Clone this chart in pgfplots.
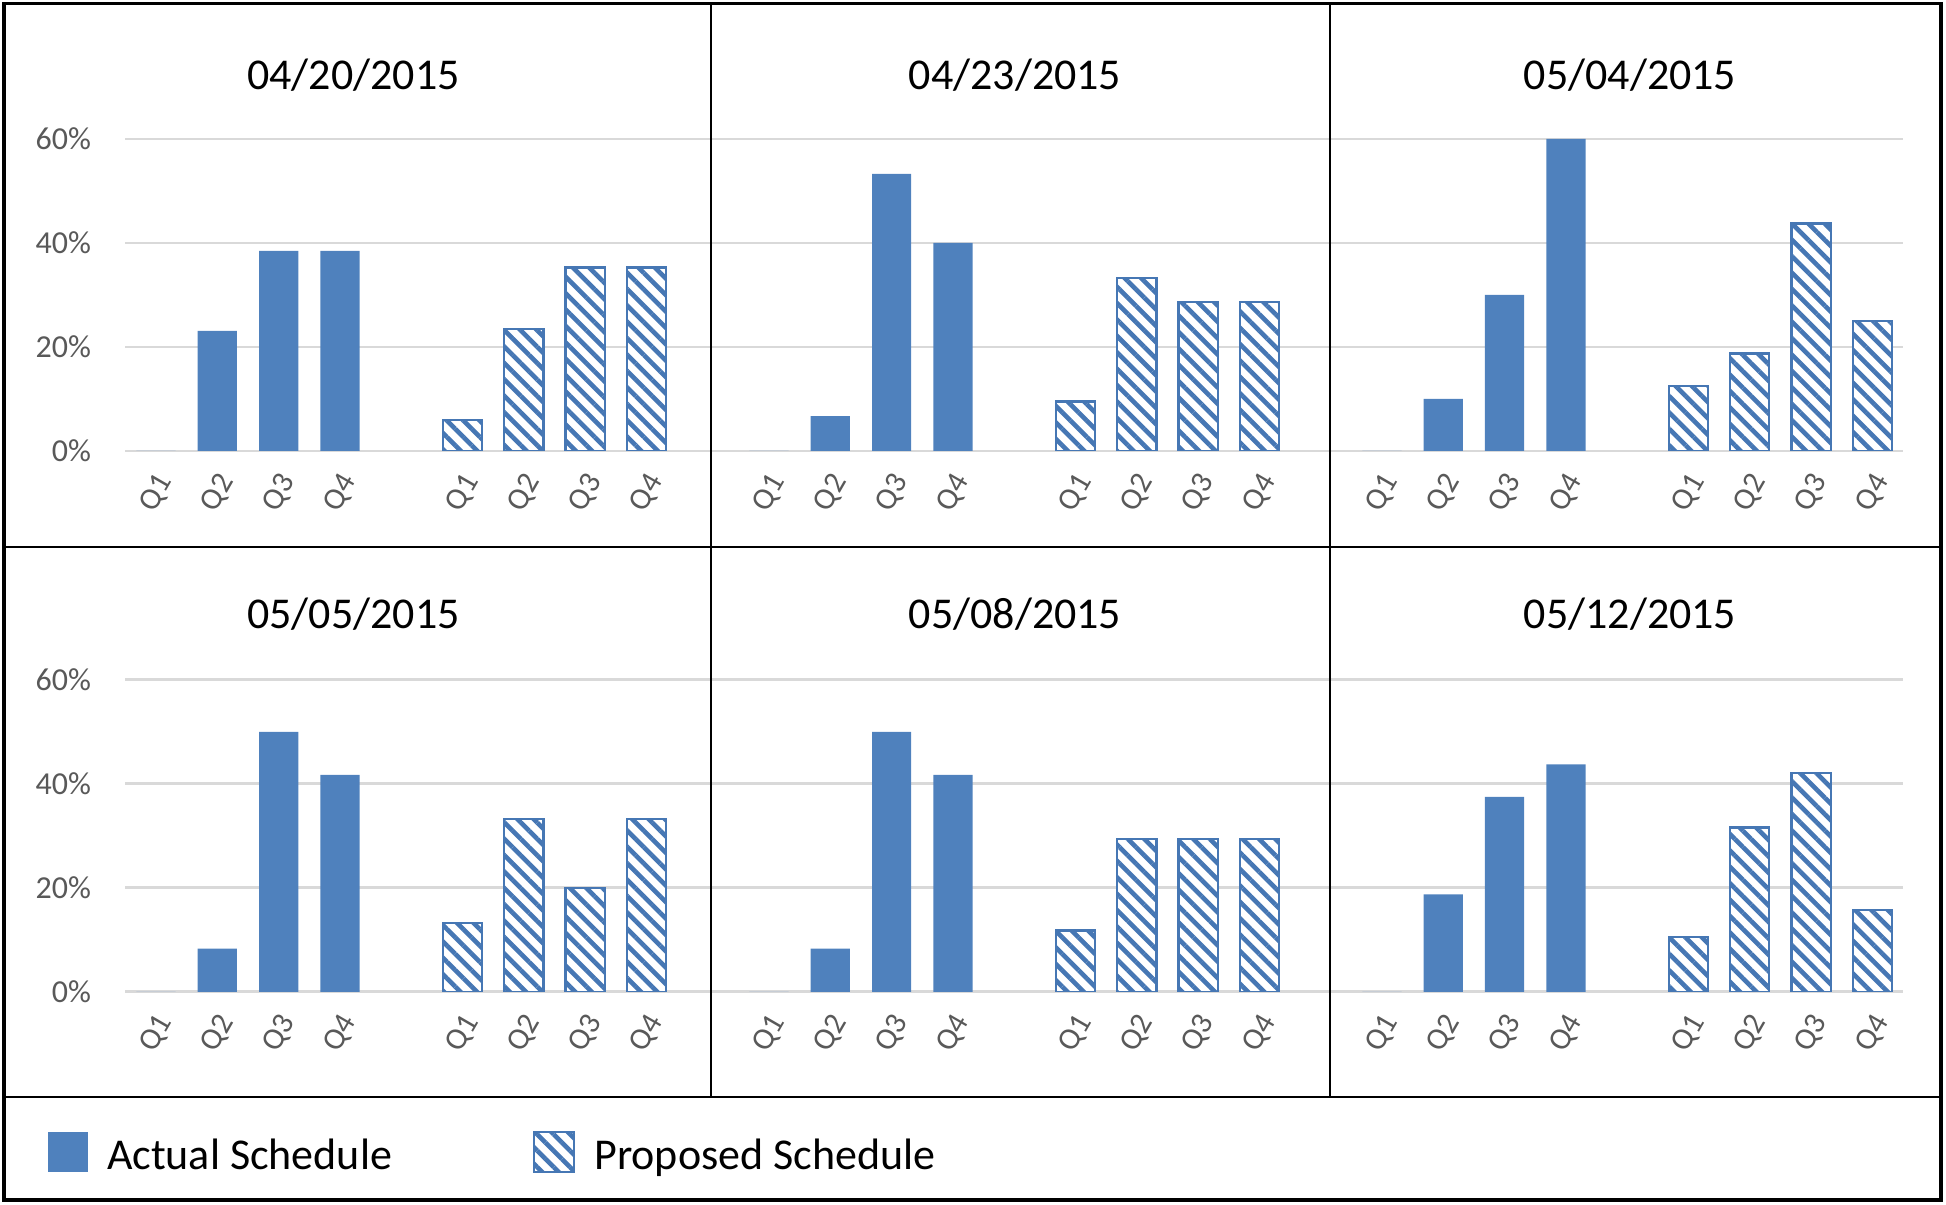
\documentclass[border=0pt]{standalone}
\usepackage{fontspec}
\setmainfont{Carlito}
\usepackage{pgfplots}
\pgfplotsset{compat=1.18}
\usetikzlibrary{patterns.meta}
\definecolor{barblue}{HTML}{4F81BD}
\definecolor{hatchblue}{HTML}{4677B4}
\definecolor{gridgray}{HTML}{D9D9D9}
\definecolor{labgray}{HTML}{595959}

\pgfplotsset{
 panelrow/.style={
  scale only axis, width=888.8pt, height=156pt,
  xmin=-0.5, xmax=28.5, ymin=0, ymax=60,
  axis line style={draw=none},
  major tick length=0pt,
  ytick={0,20,40,60},
  yticklabels={0\%,20\%,40\%,60\%},
  ymajorgrids, grid style={gridgray, line width=1.4pt},
  xtick={0,1,2,3,5,6,7,8,10,11,12,13,15,16,17,18,20,21,22,23,25,26,27,28},
  xticklabels={Q1,Q2,Q3,Q4,Q1,Q2,Q3,Q4,Q1,Q2,Q3,Q4,Q1,Q2,Q3,Q4,Q1,Q2,Q3,Q4,Q1,Q2,Q3,Q4},
  yticklabel style={font=\fontsize{16}{16}\selectfont, text=labgray, inner sep=0pt},
  yticklabel shift=17pt,
  xticklabel style={xshift=5pt, font=\fontsize{15.5}{15.5}\selectfont, text=labgray, rotate=60, anchor=east, inner sep=0pt},
  xticklabel shift=13pt,
  ybar, bar width=0.64,
 },
 actual/.style={fill=barblue, draw=none, bar shift=0pt, forget plot},
 proposed/.style={fill=white, draw=hatchblue, line width=1.1pt, bar shift=0pt, forget plot,
   postaction={pattern={Lines[angle=-45,distance=5.8pt,line width=2.3pt]}, pattern color=hatchblue}},
}

\begin{document}
\begin{tikzpicture}
\path[use as bounding box] (0,0) rectangle (973pt,602pt);

% ---------- Row 1 ----------
\begin{axis}[panelrow, at={(62.7pt,376.5pt)}, anchor=south west]
\addplot[actual] coordinates {(0,0) (1,23.1) (2,38.5) (3,38.5)};
\addplot[proposed] coordinates {(5,5.9) (6,23.5) (7,35.3) (8,35.3)};
\addplot[actual] coordinates {(10,0) (11,6.7) (12,53.3) (13,40.0)};
\addplot[proposed] coordinates {(15,9.5) (16,33.3) (17,28.6) (18,28.6)};
\addplot[actual] coordinates {(20,0) (21,10.0) (22,30.0) (23,60.0)};
\addplot[proposed] coordinates {(25,12.5) (26,18.75) (27,43.75) (28,25.0)};
\end{axis}

% ---------- Row 2 ----------
\begin{axis}[panelrow, at={(62.7pt,106.1pt)}, anchor=south west,
  legend columns=2,
  legend style={at={(-0.04354,-0.5135)}, anchor=west, draw=none, fill=none,
    inner sep=0pt, outer sep=0pt, font=\fontsize{22}{22}\selectfont,
    nodes={inner sep=0pt},
    /tikz/every odd column/.append style={column sep=9.5pt},
    /tikz/every even column/.append style={column sep=70.5pt}},
  legend cell align=left]
\addlegendimage{fill=barblue, draw=none, legend image code/.code={\fill[barblue] (0pt,-8pt) rectangle (20pt,12pt);}}
\addlegendentry{Actual Schedule}
\addlegendimage{legend image code/.code={\draw[fill=white, draw=hatchblue, line width=1.1pt, postaction={pattern={Lines[angle=-45,distance=5.8pt,line width=2.3pt]}, pattern color=hatchblue}] (0pt,-8pt) rectangle (20pt,12pt);}}
\addlegendentry{Proposed Schedule}
\addplot[actual] coordinates {(0,0) (1,8.3) (2,50.0) (3,41.7)};
\addplot[proposed] coordinates {(5,13.3) (6,33.3) (7,20.0) (8,33.3)};
\addplot[actual] coordinates {(10,0) (11,8.3) (12,50.0) (13,41.7)};
\addplot[proposed] coordinates {(15,11.8) (16,29.4) (17,29.4) (18,29.4)};
\addplot[actual] coordinates {(20,0) (21,18.75) (22,37.5) (23,43.75)};
\addplot[proposed] coordinates {(25,10.5) (26,31.6) (27,42.1) (28,15.8)};
\end{axis}

% ---------- Titles ----------
\begin{scope}[every node/.style={anchor=base, font=\fontsize{22}{22}\selectfont, text=black, inner sep=0pt}]
\node at (176.75pt,557.25pt) {04/20/2015};
\node at (507.5pt,557.25pt) {04/23/2015};
\node at (815pt,557.25pt) {05/04/2015};
\node at (176.75pt,287.5pt) {05/05/2015};
\node at (507.5pt,287.5pt) {05/08/2015};
\node at (815pt,287.5pt) {05/12/2015};
\end{scope}

% ---------- Frame ----------
\draw[black, line width=1pt] (355.5pt,53.75pt) -- (355.5pt,600.25pt);
\draw[black, line width=1pt] (665pt,53.75pt) -- (665pt,600.25pt);
\draw[black, line width=1.4pt] (2pt,328.5pt) -- (970.5pt,328.5pt);
\draw[black, line width=1pt] (2pt,53.75pt) -- (970.5pt,53.75pt);
\draw[black, line width=1.6pt] (2pt,2pt) rectangle (970.5pt,600.25pt);
\end{tikzpicture}
\end{document}
